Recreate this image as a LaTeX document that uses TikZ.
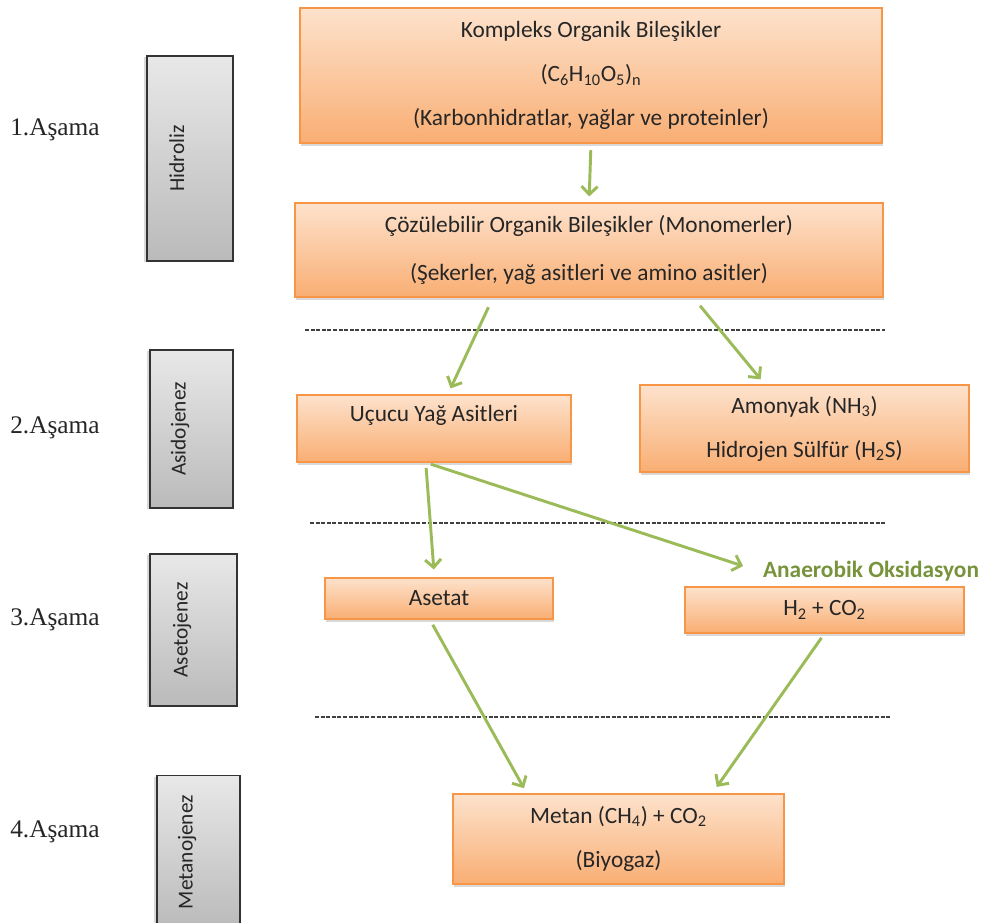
\documentclass[tikz,border=0pt]{standalone}
\usepackage{fontspec}
\setmainfont{Carlito}
\newfontfamily\stagefont{Liberation Serif}
\usetikzlibrary{arrows.meta, calc, shadows}

\definecolor{boxedge}{HTML}{F79646}
\definecolor{orangetop}{HTML}{FDE2CC}
\definecolor{orangebot}{HTML}{F9AE73}
\definecolor{flowgreen}{HTML}{9BBB59}
\definecolor{labelgreen}{HTML}{77933C}
\definecolor{inktext}{HTML}{262626}

\begin{document}
\begin{tikzpicture}[x=0.75pt, y=-0.75pt,
    >={Straight Barb[length=6pt, width=12pt]},
    phase/.style={draw=boxedge, line width=0.8pt, top color=orangetop,
      bottom color=orangebot, inner sep=0pt, align=center, text=inktext,
      font=\fontsize{17.5}{21}\selectfont,
      drop shadow={shadow xshift=1pt, shadow yshift=-2pt, opacity=0.3}},
    stagebox/.style={draw=black!80, line width=1.1pt, rotate=90,
      top color=black!9, bottom color=black!27, inner sep=0pt,
      text depth=20pt, text=inktext, font=\fontsize{16}{19}\selectfont,
      drop shadow={shadow xshift=-2pt, shadow yshift=-1pt, opacity=0.3}},
    stage/.style={anchor=west, inner sep=0pt, text=inktext,
      font=\stagefont\fontsize{19}{22}\selectfont},
    flow/.style={->, draw=flowgreen, line width=2.2pt},
    sepline/.style={draw=black!75, line width=0.8pt, dash pattern=on 3pt off 1.2pt}]
  \clip (0,0) rectangle (983,923);

  % Stage labels
  \node[stage] (s1) at (10,130) {1.Aşama};
  \node[stage] (s2) at (10,428) {2.Aşama};
  \node[stage] (s3) at (10,620) {3.Aşama};
  \node[stage] (s4) at (10,832) {4.Aşama};

  % Process boxes
  \node[stagebox, minimum width=153.75pt, minimum height=64.5pt] (hidroliz) at (190,158.5) {Hidroliz};
  \node[stagebox, minimum width=118.5pt, minimum height=62.25pt] (asido) at (191.5,429) {Asidojenez};
  \node[stagebox, minimum width=114pt, minimum height=65.25pt] (aseto) at (193.5,630) {Asetojenez};
  \node[stagebox, minimum width=115pt, minimum height=62.25pt] (metano) at (198.5,852) {Metanojenez};

  % Compounds
  \node[phase, minimum width=436.5pt, minimum height=101.25pt] (kompleks) at (591,75.5)
    {Kompleks Organik Bileşikler\\[12pt]
     (C\textsubscript{6}H\textsubscript{10}O\textsubscript{5})\textsubscript{n}\\[12pt]
     (Karbonhidratlar, yağlar ve proteinler)};
  \node[phase, minimum width=441pt, minimum height=70.5pt] (monomer) at (589,250)
    {Çözülebilir Organik Bileşikler (Monomerler)\\[15pt]
     (Şekerler, yağ asitleri ve amino asitler)};
  \node[phase, minimum width=205.5pt, minimum height=50.25pt, text depth=22pt] (ucucu) at (434,428.5)
    {Uçucu Yağ Asitleri};
  \node[phase, minimum width=246.75pt, minimum height=65.25pt] (amonyak) at (804.5,428.5)
    {Amonyak (NH\textsubscript{3})\\[12pt]
     Hidrojen Sülfür (H\textsubscript{2}S)};
  \node[phase, minimum width=171pt, minimum height=30.75pt] (asetat) at (439,598.5) {Asetat};
  \node[phase, minimum width=209.25pt, minimum height=34.5pt] (hidrojen) at (824.5,610)
    {H\textsubscript{2} + CO\textsubscript{2}};
  \node[phase, minimum width=248.25pt, minimum height=67.5pt] (metan) at (618.5,839)
    {Metan (CH\textsubscript{4}) + CO\textsubscript{2}\\[12pt]
     (Biyogaz)};

  \node[text=labelgreen, font=\fontsize{17.5}{21}\selectfont\bfseries] (anox) at (871,571)
    {Anaerobik Oksidasyon};

  % Phase separators
  \draw[sepline] (305,330) -- (885,330);
  \draw[sepline] (310,523) -- (885,523);
  \draw[sepline] (315,717) -- (890,717);

  % Flow arrows
  \draw[flow, shorten <=5pt, shorten >=4.5pt] (kompleks.south) -- (monomer.north);
  \draw[flow, shorten <=8pt, shorten >=5pt]
    ($(monomer.south west)!0.337!(monomer.south east)$) -- ($(ucucu.north west)!0.55!(ucucu.north east)$);
  \draw[flow, shorten <=8pt, shorten >=5pt]
    ($(monomer.south west)!0.677!(monomer.south east)$) -- ($(amonyak.north west)!0.38!(amonyak.north east)$);
  \draw[flow, shorten <=4pt, shorten >=6pt]
    ($(ucucu.south west)!0.47!(ucucu.south east)$) -- ($(asetat.north west)!0.48!(asetat.north east)$);
  \draw[flow, shorten <=4pt, shorten >=12pt]
    ($(ucucu.south west)!0.47!(ucucu.south east)$) -- (anox.west);
  \draw[flow, shorten <=4.5pt, shorten >=4.5pt]
    ($(asetat.south west)!0.46!(asetat.south east)$) -- ($(metan.north west)!0.224!(metan.north east)$);
  \draw[flow, shorten <=4pt, shorten >=6pt]
    (hidrojen.south) -- ($(metan.north west)!0.782!(metan.north east)$);
\end{tikzpicture}
\end{document}
